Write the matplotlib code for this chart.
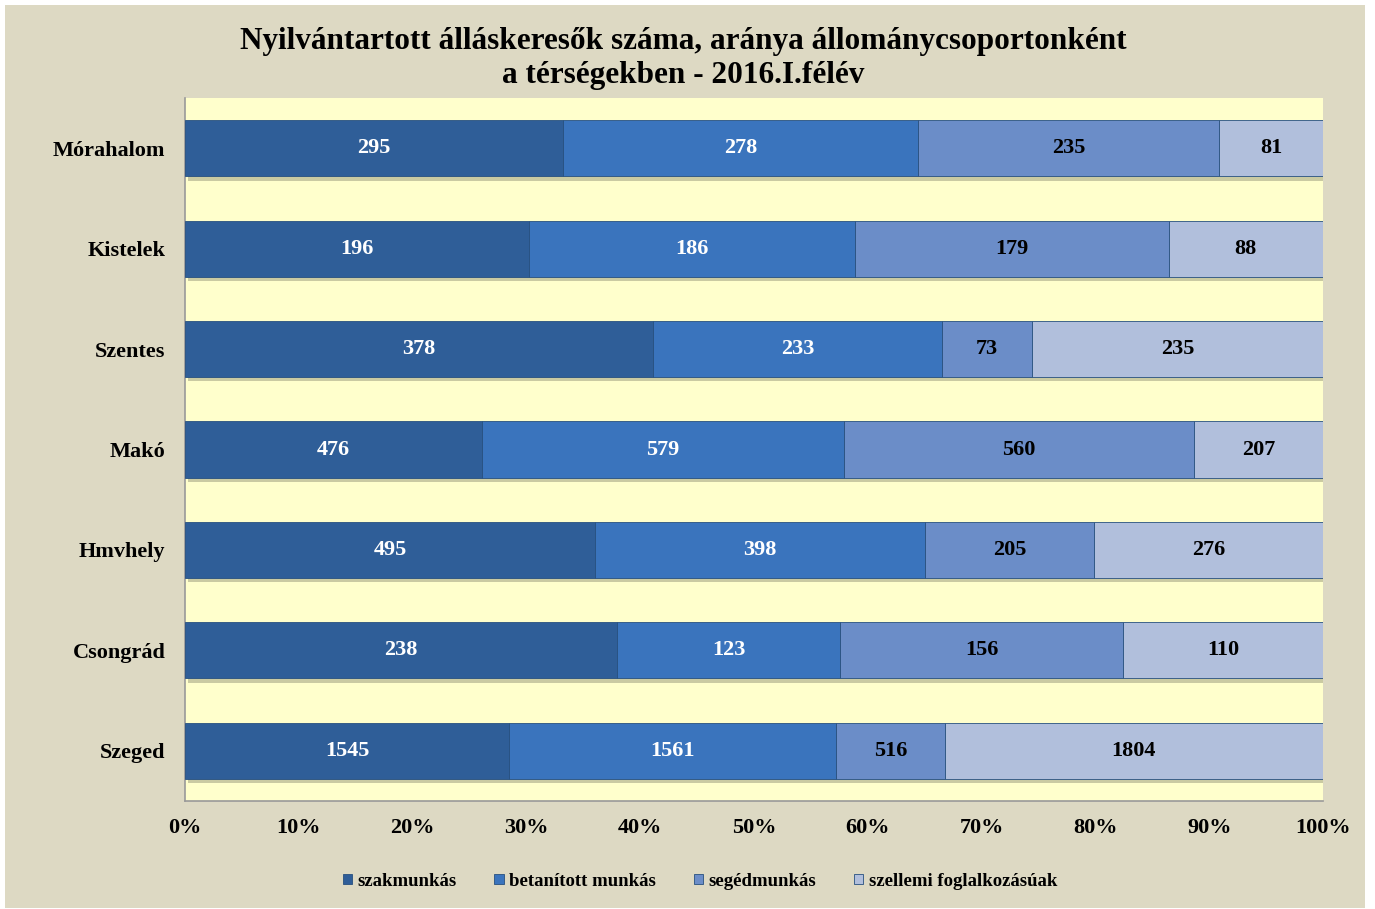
import matplotlib
matplotlib.use('Agg')
import matplotlib.pyplot as plt
import matplotlib.patheffects as pe
from matplotlib.patches import Rectangle
import numpy as np

plt.rcParams['font.family'] = ['Liberation Serif', 'DejaVu Serif']
plt.rcParams['font.weight'] = 'bold'

regions = ['Szeged', 'Csongrád', 'Hmvhely', 'Makó', 'Szentes', 'Kistelek', 'Mórahalom']
szakmunkas = [1545, 238, 495, 476, 378, 196, 295]
betanitott = [1561, 123, 398, 579, 233, 186, 278]
segedmunkas = [516, 156, 205, 560, 73, 179, 235]
szellemi = [1804, 110, 276, 207, 235, 88, 81]
series_names = ['szakmunkás', 'betanított munkás', 'segédmunkás', 'szellemi foglalkozásúak']
tick_labels = ['0%', '10%', '20%', '30%', '40%', '50%', '60%', '70%', '80%', '90%', '100%']

colors = ['#2f5e98', '#3a74bd', '#6b8dc8', '#b1bfdc']
text_colors = ['white', 'white', 'black', 'black']

fig = plt.figure(figsize=(13.75, 9.09), dpi=100)
fig.patch.set_facecolor('white')
fig.patches.append(Rectangle((5 / 1375, 1 - 908 / 909), 1360 / 1375, 903 / 909,
                             transform=fig.transFigure, facecolor='#ddd9c3',
                             edgecolor='none', zorder=-10))

ax = fig.add_axes([185 / 1375, 1 - 801 / 909, 1138 / 1375, 703 / 909])
ax.set_facecolor('#ffffcc')

data = np.array([szakmunkas, betanitott, segedmunkas, szellemi], dtype=float)
totals = data.sum(axis=0)
shares = data / totals * 100
y = np.arange(len(regions))
left = np.zeros(len(regions))
shadow = [pe.SimplePatchShadow(offset=(2, -3), shadow_rgbFace='#8a8a70', alpha=0.45), pe.Normal()]
for i, name in enumerate(series_names):
    bars = ax.barh(y, shares[i], left=left, height=0.56, color=colors[i],
                   edgecolor='#27507f', linewidth=0.6, label=name, zorder=3)
    for b in bars:
        b.set_path_effects(shadow)
    for j in range(len(regions)):
        ax.text(left[j] + shares[i][j] / 2, y[j], str(int(data[i][j])),
                ha='center', va='center', color=text_colors[i],
                fontsize=16, fontweight='bold', zorder=5)
    left += shares[i]

ax.set_xlim(0, 100)
ax.set_ylim(-0.5, len(regions) - 0.5)
ax.set_xticks(np.arange(0, 101, 10))
ax.set_xticklabels(tick_labels, fontsize=16, fontweight='bold')
ax.set_yticks(y)
ax.set_yticklabels(regions, fontsize=16, fontweight='bold')
ax.tick_params(axis='x', length=0, pad=12)
ax.tick_params(axis='y', length=0, pad=14)
for s in ['top', 'right']:
    ax.spines[s].set_visible(False)
for s in ['left', 'bottom']:
    ax.spines[s].set_color('#999999')
    ax.spines[s].set_linewidth(1.2)

fig.text(0.497, 1 - 42 / 909, 'Nyilvántartott álláskeresők száma, aránya állománycsoportonként',
         ha='center', va='center', fontsize=22.5, fontweight='bold')
fig.text(0.497, 1 - 75 / 909, 'a térségekben - 2016.I.félév',
         ha='center', va='center', fontsize=22.5, fontweight='bold')

leg = fig.legend(loc='center', bbox_to_anchor=(0.509, 1 - 881 / 909), ncol=4,
                 frameon=False, fontsize=13.5, handlelength=0.5, handleheight=0.5,
                 handletextpad=0.3, columnspacing=2.0)
for t in leg.get_texts():
    t.set_fontweight('bold')
for h in leg.legend_handles:
    h.set_path_effects([])

plt.savefig('out.png', dpi=100, facecolor=fig.get_facecolor())
